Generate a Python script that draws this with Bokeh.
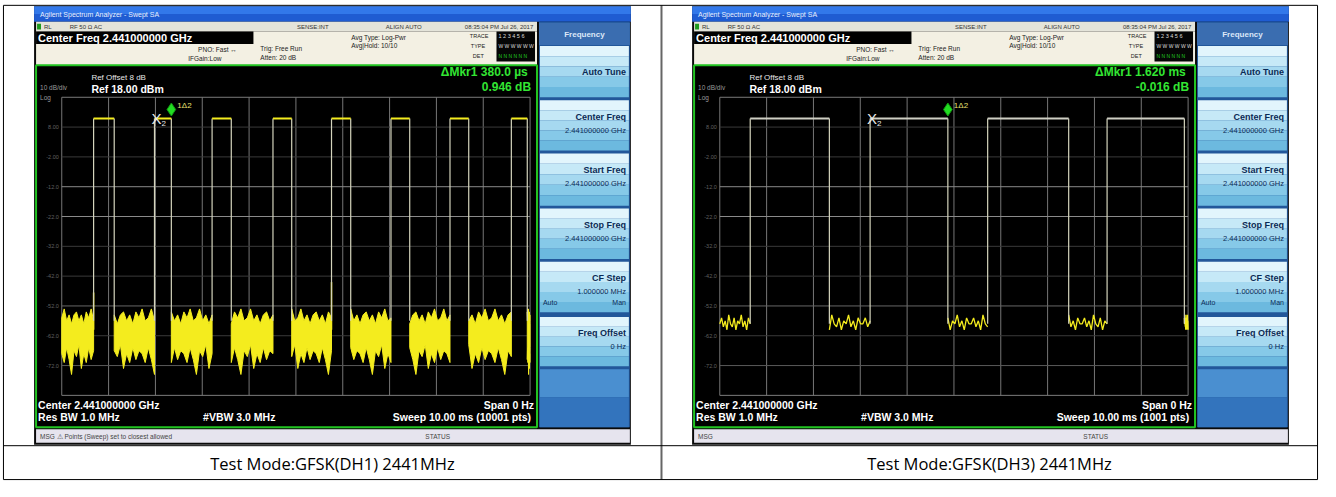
from bokeh.plotting import figure
from bokeh.models import Range1d, ColumnDataSource
from bokeh.core.properties import value, field
from bokeh.embed import file_html
from bokeh.resources import INLINE

# ---------------- data ----------------
captions = ["Test Mode:GFSK(DH1) 2441MHz", "Test Mode:GFSK(DH3) 2441MHz"]
sweep_ms = 10.0
ref_level_dbm = 18.0
db_per_div = 10.0
n_div = 10
y_tick_labels = ["8.00", "-2.00", "-12.0", "-22.0", "-32.0", "-42.0", "-52.0", "-62.0", "-72.0"]

# DH1: burst start / end times (ms) and burst level (dBm)
dh1_pulse_start = [0.68, 1.98, 3.21, 4.51, 5.76, 7.03, 8.29, 9.60]
dh1_pulse_end = [1.12, 2.34, 3.62, 4.91, 6.17, 7.43, 8.69, 9.94]
dh1_peak_dbm = 10.9
# noise floor envelope between bursts (dBm), estimated
dh1_noise_hi = [-56, -53, -57, -55, -58, -55, -54, -57, -55, -58, -54, -56, -53, -57]
dh1_noise_lo = [-68, -71, -66, -70, -75, -67, -69, -65, -73, -68, -71, -66, -70, -67]
dh1_spike_t = [0.68, 5.76]
dh1_spike_dbm = [-47.5, -44.0]

# DH3
dh3_pulse_start = [0.65, 3.21, 5.72, 8.27]
dh3_pulse_end = [2.34, 4.87, 7.45, 9.92]
dh3_peak_dbm = 10.9
dh3_noise = [-58, -56, -59, -57, -60, -55, -58, -59, -56, -60, -57, -58, -55, -59, -57, -60, -56, -58]

mkr_delta_text = ["\u0394Mkr1  380.0 \u00b5s", "\u0394Mkr1  1.620 ms"]
mkr_value_text = ["0.946 dB", "-0.016 dB"]
mkr_pulse_index = [1, 1]
sweep_points = [10001, 1001]
status_msgs = ["MSG    \u26a0 Points (Sweep) set to closest allowed", "MSG"]

softkey_labels = ["Auto Tune", "Center Freq", "Start Freq", "Stop Freq", "CF Step", "Freq Offset"]
softkey_values = ["", "2.441000000 GHz", "2.441000000 GHz", "2.441000000 GHz", "1.000000 MHz", "0 Hz"]

# ---------------- layout (reference pixel space) ----------------
W_REF, H_REF = 1336, 497
DX = [0, 666]
GX0, GX1, GY0, GY1 = 62, 536, 100, 408

p = figure(width=1320, height=481, x_range=Range1d(0, W_REF), y_range=Range1d(H_REF, 0),
           output_backend="svg", toolbar_location=None, min_border=0,
           x_axis_location=None, y_axis_location=None)
p.xgrid.visible = False
p.ygrid.visible = False
p.outline_line_color = None
p.background_fill_color = "white"

ppm = (GX1 - GX0) / sweep_ms
ppd = (GY1 - GY0) / (n_div * db_per_div)
xr = {}
for i, dx in enumerate(DX):
    xr[f"t{i}"] = Range1d(start=-(GX0 + dx) / ppm, end=(W_REF - (GX0 + dx)) / ppm)
p.extra_x_ranges = xr
p.extra_y_ranges = {"db": Range1d(start=ref_level_dbm - (H_REF - GY0) / ppd,
                                  end=ref_level_dbm + GY0 / ppd)}

quads = dict(l=[], r=[], t=[], b=[], c=[])
def Q(l, r, t, b, c):
    quads["l"].append(l); quads["r"].append(r); quads["t"].append(t); quads["b"].append(b); quads["c"].append(c)

texts = dict(x=[], y=[], text=[], size=[], color=[], style=[], align=[], font=[])
def T(x, y, s, size, color, style="normal", align="left", font="Liberation Sans"):
    texts["x"].append(x); texts["y"].append(y); texts["text"].append(s)
    texts["size"].append(f"{size}px"); texts["color"].append(color); texts["style"].append(style)
    texts["align"].append(align); texts["font"].append(font)

btn_rows = [(47, 100), (103, 155), (158, 212), (215, 267), (270, 322), (327, 378)]
btn_cols = ["#e2f5fc", "#c6e9f7", "#a6d9f0", "#86c9e8", "#6cb9df"]

for i, dx in enumerate(DX):
    # screenshot frame
    Q(34 + dx, 638 + dx, 6, 459, "#0a0a0a")
    Q(34 + dx, 638 + dx, 6, 14, "#3278ea")
    Q(34 + dx, 638 + dx, 14, 22, "#1f5cd2")
    Q(36 + dx, 543 + dx, 22, 32, "#e4e4da")
    Q(37 + dx, 41 + dx, 24, 30, "#1d9a1d")
    Q(36 + dx, 543 + dx, 32, 67, "#f3f0e3")
    Q(36 + dx, 256 + dx, 32, 45, "#000000")
    Q(502 + dx, 541 + dx, 32, 63, "#050505")
    # soft key column
    Q(545 + dx, 637 + dx, 22, 441, "#22579a")
    Q(545 + dx, 637 + dx, 23, 46, "#3a6db0")
    for (t0, b0) in btn_rows:
        h = (b0 - t0) / len(btn_cols)
        for k, c in enumerate(btn_cols):
            Q(546 + dx, 636 + dx, t0 + k * h, t0 + (k + 1) * h, c)
    Q(546 + dx, 636 + dx, 381, 410, "#4a8fd0")
    Q(546 + dx, 636 + dx, 410, 441, "#3374bd")
    # status bar
    Q(36 + dx, 637 + dx, 443, 457, "#e6e4ee")

p.quad(left="l", right="r", top="t", bottom="b", fill_color="c", line_color=None,
       source=ColumnDataSource(quads))
# green measurement frame
p.quad(left=[36 + d for d in DX], right=[543 + d for d in DX], top=[67, 67], bottom=[441, 441],
       fill_color="black", line_color="#22c422", line_width=2)

for i, dx in enumerate(DX):
    T(40 + dx, 14, "Agilent Spectrum Analyzer - Swept SA", 7, "#e8f0ff")
    T(44 + dx, 27, "RL", 6, "#333333")
    T(70 + dx, 27, "RF    50 \u03a9  AC", 6, "#333333")
    T(300 + dx, 27, "SENSE:INT", 6, "#333333")
    T(390 + dx, 27, "ALIGN AUTO", 6, "#333333")
    T(470 + dx, 27, "08:35:04 PM Jul 26, 2017", 6, "#333333")
    T(38 + dx, 39, "Center Freq 2.441000000 GHz", 11, "#ffffff", "bold")
    T(200 + dx, 51, "PNO: Fast \u2194", 6.5, "#222222")
    T(190 + dx, 60, "IFGain:Low", 6.5, "#222222")
    T(263 + dx, 50, "Trig: Free Run", 6.5, "#222222")
    T(263 + dx, 59, "Atten: 20 dB", 6.5, "#222222")
    T(355 + dx, 38, "Avg Type: Log-Pwr", 6.5, "#222222")
    T(355 + dx, 47, "Avg|Hold: 10/10", 6.5, "#222222")
    T(475 + dx, 37, "TRACE", 5.5, "#222222")
    T(476 + dx, 47, "TYPE", 5.5, "#222222")
    T(478 + dx, 57, "DET", 5.5, "#222222")
    T(504 + dx, 37, "1 2 3 4 5 6", 5.5, "#dddddd")
    T(504 + dx, 47, "W W W W W W", 5, "#dddddd")
    T(504 + dx, 57, "N N N N N N", 5, "#22cc22")
    T(40 + dx, 90, "10 dB/div", 6.5, "#9a9a9a")
    T(40 + dx, 100, "Log", 6.5, "#9a9a9a")
    T(92 + dx, 80, "Ref Offset 8 dB", 8, "#e6e6e6")
    T(92 + dx, 91, "Ref 18.00 dBm", 10.5, "#ffffff", "bold")
    T(537 + dx, 74, mkr_delta_text[i], 12, "#33e633", "bold", "right")
    T(537 + dx, 89, mkr_value_text[i], 12, "#33e633", "bold", "right")
    T(38 + dx, 418, "Center 2.441000000 GHz", 10.5, "#ffffff", "bold")
    T(38 + dx, 430, "Res BW 1.0 MHz", 10.5, "#ffffff", "bold")
    T(205 + dx, 430, "#VBW 3.0 MHz", 10.5, "#ffffff", "bold")
    T(540 + dx, 418, "Span 0 Hz", 10.5, "#ffffff", "bold", "right")
    T(540 + dx, 430, f"Sweep  10.00 ms ({sweep_points[i]} pts)", 10.5, "#ffffff", "bold", "right")
    T(40 + dx, 450, status_msgs[i], 6.5, "#444444")
    T(430 + dx, 450, "STATUS", 6.5, "#444444")
    T(591 + dx, 35, "Frequency", 8, "#dce8f8", "bold", "center")
    for k, (t0, b0) in enumerate(btn_rows):
        if softkey_values[k]:
            T(633 + dx, t0 + 17, softkey_labels[k], 9, "#0b2a55", "bold", "right")
            T(633 + dx, t0 + 31, softkey_values[k], 7.5, "#0b2a55", "normal", "right")
        else:
            T(633 + dx, (t0 + b0) / 2, softkey_labels[k], 9, "#0b2a55", "bold", "right")
    T(549 + dx, 270 + 42, "Auto", 7, "#0b2a55")
    T(633 + dx, 270 + 42, "Man", 7, "#0b2a55", "normal", "right")

# captions
for i, cap in enumerate(captions):
    T([336, 1001][i], 478, cap, 16.5, "#000000", "normal", "center", "Open Sans")

# table borders
p.segment(x0=[3, 669, 1333, 3, 3, 3], x1=[3, 669, 1333, 1333, 1333, 1333],
          y0=[5, 5, 5, 5, 460, 495], y1=[495, 495, 495, 5, 460, 495],
          line_color=["#000000", "#666666", "#000000", "#000000", "#000000", "#000000"],
          line_width=[1, 2, 1, 1, 1, 1])

# ---------------- graticule & traces (data space) ----------------
YEL = "#f4ec1e"
EDGE = "#d4d4bc"
bottom_db = ref_level_dbm - n_div * db_per_div
h_cols = ["#7b7b7b", "#3a3a3a", "#3a3a3a", "#8a8a8a", "#8a8a8a", "#3a3a3a",
          "#3a3a3a", "#666666", "#3a3a3a", "#5a5a5a", "#7b7b7b"]

panels = [
    dict(start=dh1_pulse_start, end=dh1_pulse_end, peak=dh1_peak_dbm, top_col=YEL),
    dict(start=dh3_pulse_start, end=dh3_pulse_end, peak=dh3_peak_dbm, top_col="#cfcfc4"),
]

for i, dx in enumerate(DX):
    xn = f"t{i}"
    ts = [sweep_ms * k / n_div for k in range(n_div + 1)]
    p.segment(x0=ts, x1=ts, y0=[bottom_db] * len(ts), y1=[ref_level_dbm] * len(ts),
              line_color="#767676", line_width=1, x_range_name=xn, y_range_name="db")
    lv = [ref_level_dbm - db_per_div * k for k in range(n_div + 1)]
    p.segment(x0=[0] * len(lv), x1=[sweep_ms] * len(lv), y0=lv, y1=lv,
              line_color=h_cols, line_width=1, x_range_name=xn, y_range_name="db")
    # y tick labels
    p.text(x=[GX0 + dx - 3] * len(y_tick_labels), y=lv[1:len(y_tick_labels) + 1], text=y_tick_labels,
           text_font_size="5.5px", text_color="#606060", text_align="right", text_baseline="middle",
           text_font=value("Liberation Sans"), y_range_name="db")

    pn = panels[i]
    st, en, pk = pn["start"], pn["end"], pn["peak"]
    seg_a = [0.0] + en
    seg_b = st + [sweep_ms]

    if i == 0:
        n = len(dh1_noise_hi)
        pxs, pys = [], []
        for j, (a, b) in enumerate(zip(seg_a, seg_b)):
            xk = [a + (b - a) * k / (n - 1) for k in range(n)]
            hi = [dh1_noise_hi[(k + 3 * j) % n] for k in range(n)]
            lo = [dh1_noise_lo[(k + 5 * j) % n] for k in range(n)]
            pxs.append(xk + xk[::-1])
            pys.append(hi + lo[::-1])
        p.patches(xs=pxs, ys=pys, fill_color=YEL, line_color=YEL, line_width=1,
                  x_range_name=xn, y_range_name="db")
        p.segment(x0=dh1_spike_t, x1=dh1_spike_t, y0=[-60] * len(dh1_spike_t), y1=dh1_spike_dbm,
                  line_color=YEL, line_width=1.5, x_range_name=xn, y_range_name="db")
        floor = -57
    else:
        n = len(dh3_noise)
        mxs, mys = [], []
        for j, (a, b) in enumerate(zip(seg_a, seg_b)):
            xk = [a + (b - a) * k / (n - 1) for k in range(n)]
            mxs.append(xk)
            mys.append([dh3_noise[(k + 4 * j) % n] for k in range(n)])
        p.multi_line(xs=mxs, ys=mys, line_color=YEL, line_width=1.3,
                     x_range_name=xn, y_range_name="db")
        floor = -58

    edges = st + en
    p.segment(x0=edges, x1=edges, y0=[floor] * len(edges), y1=[pk] * len(edges),
              line_color=EDGE, line_width=1.2, x_range_name=xn, y_range_name="db")
    p.segment(x0=st, x1=en, y0=[pk] * len(st), y1=[pk] * len(st),
              line_color=pn["top_col"], line_width=2, x_range_name=xn, y_range_name="db")

    # markers
    mi = mkr_pulse_index[i]
    p.text(x=[st[mi]], y=[pk], text=["X"], text_font_size="15px", text_color="#e8e8e8",
           text_align="center", text_baseline="middle", text_font=value("Liberation Sans"),
           x_offset=2, x_range_name=xn, y_range_name="db")
    p.text(x=[st[mi]], y=[pk], text=["2"], text_font_size="8px", text_color="#e8e8e8",
           text_align="left", text_baseline="middle", text_font=value("Liberation Sans"),
           x_offset=7, y_offset=5, x_range_name=xn, y_range_name="db")
    p.scatter(x=[en[mi]], y=[pk + 3.0], marker="diamond", size=13, fill_color="#22dd22",
              line_color="#119911", x_range_name=xn, y_range_name="db")
    p.text(x=[en[mi]], y=[pk + 3.0], text=["1\u03942"], text_font_size="8px", text_color="#e8e070",
           text_align="left", text_baseline="middle", text_font=value("Liberation Sans"),
           x_offset=6, y_offset=-4, x_range_name=xn, y_range_name="db")

p.text(x="x", y="y", text="text", text_font_size=field("size"), text_color=field("color"),
       text_font_style=field("style"), text_align=field("align"), text_font=field("font"),
       text_baseline="middle", source=ColumnDataSource(texts))

open("out.html", "w").write(file_html(p, INLINE))
